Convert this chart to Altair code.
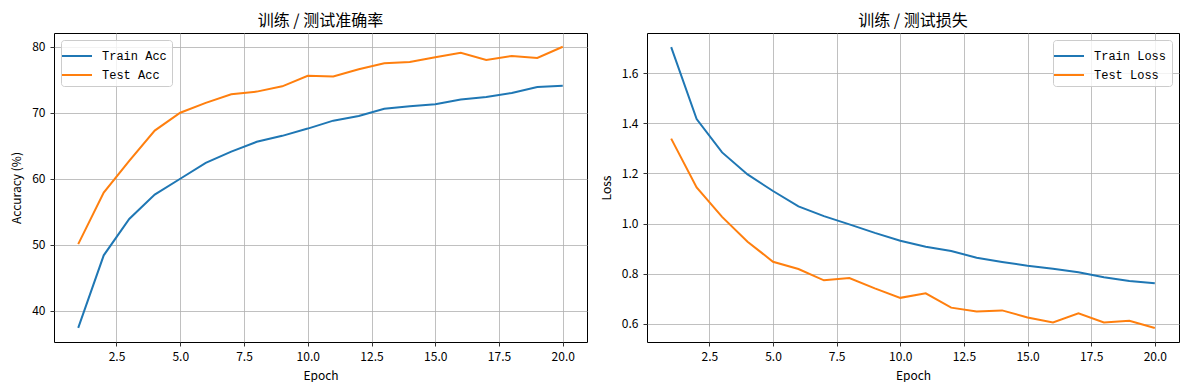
import altair as alt
import pandas as pd

epochs = list(range(1, 21))
train_acc = [37.4, 48.4, 53.9, 57.6, 60.0, 62.4, 64.1, 65.6, 66.5, 67.6,
             68.8, 69.5, 70.6, 71.0, 71.3, 72.0, 72.4, 73.0, 73.9, 74.1]
test_acc = [50.1, 57.9, 62.7, 67.3, 70.0, 71.5, 72.8, 73.2, 74.0, 75.6,
            75.5, 76.6, 77.5, 77.7, 78.4, 79.1, 78.0, 78.6, 78.3, 80.0]
train_loss = [1.704, 1.417, 1.284, 1.196, 1.130, 1.069, 1.030, 0.997, 0.963, 0.932,
              0.908, 0.891, 0.864, 0.847, 0.832, 0.820, 0.806, 0.786, 0.771, 0.762]
test_loss = [1.339, 1.144, 1.027, 0.928, 0.848, 0.819, 0.774, 0.783, 0.742, 0.704,
             0.722, 0.665, 0.650, 0.654, 0.626, 0.606, 0.642, 0.606, 0.613, 0.584]

x_ticks = [2.5, 5.0, 7.5, 10.0, 12.5, 15.0, 17.5, 20.0]
acc_ticks = [40, 50, 60, 70, 80]
loss_ticks = [0.6, 0.8, 1.0, 1.2, 1.4, 1.6]

acc_names = ["Train Acc", "Test Acc"]
loss_names = ["Train Loss", "Test Loss"]
colors = ["#1f77b4", "#ff7f0e"]

acc_df = pd.DataFrame({
    "epoch": epochs * 2,
    "value": train_acc + test_acc,
    "series": [acc_names[0]] * 20 + [acc_names[1]] * 20,
})
loss_df = pd.DataFrame({
    "epoch": epochs * 2,
    "value": train_loss + test_loss,
    "series": [loss_names[0]] * 20 + [loss_names[1]] * 20,
})

CJK = "Noto Sans CJK SC"
MONO = "Liberation Mono"


def make_legend(orient):
    return alt.Legend(
        title=None, orient=orient, offset=7,
        fillColor="rgba(255,255,255,0.8)", strokeColor="#cccccc",
        cornerRadius=3, padding=5, symbolType="M-1.5,0H1.5", symbolSize=400,
        symbolStrokeWidth=2, labelFont=MONO, labelFontSize=12,
        labelColor="#000000", rowPadding=2, labelOffset=14,
    )


def x_enc():
    return alt.X(
        "epoch:Q",
        scale=alt.Scale(domain=[0.05, 20.95], nice=False, zero=False),
        axis=alt.Axis(values=x_ticks, format=".1f", title="Epoch"),
    )


acc_chart = alt.Chart(acc_df).mark_line(strokeWidth=2).encode(
    x=x_enc(),
    y=alt.Y("value:Q",
            scale=alt.Scale(domain=[35.27, 82.08], nice=False, zero=False),
            axis=alt.Axis(values=acc_ticks, format="d", title="Accuracy (%)")),
    color=alt.Color("series:N",
                    scale=alt.Scale(domain=acc_names, range=colors),
                    legend=make_legend("top-left")),
).properties(
    width=533, height=309,
    title=alt.TitleParams("训练 / 测试准确率", font=CJK, fontSize=16,
                          fontWeight="normal", color="#000000", offset=4),
)

loss_chart = alt.Chart(loss_df).mark_line(strokeWidth=2).encode(
    x=x_enc(),
    y=alt.Y("value:Q",
            scale=alt.Scale(domain=[0.528, 1.760], nice=False, zero=False),
            axis=alt.Axis(values=loss_ticks, format=".1f", title="Loss")),
    color=alt.Color("series:N",
                    scale=alt.Scale(domain=loss_names, range=colors),
                    legend=make_legend("top-right")),
).properties(
    width=532, height=309,
    title=alt.TitleParams("训练 / 测试损失", font=CJK, fontSize=16,
                          fontWeight="normal", color="#000000", offset=4),
)

chart = alt.hconcat(acc_chart, loss_chart, spacing=11).resolve_scale(
    color="independent"
).properties(
    padding={"left": 2, "top": 4, "right": 0, "bottom": 0}
).configure_view(
    stroke="#000000", strokeWidth=1
).configure_axis(
    grid=True, gridColor="#b0b0b0", gridWidth=0.8,
    domain=False, tickColor="#000000", tickSize=4, tickWidth=0.8,
    labelFont=CJK, labelFontSize=12, labelColor="#000000", labelPadding=5,
    titleFont=CJK, titleFontSize=12, titleFontWeight="normal", titleColor="#000000",
    titlePadding=8,
).configure_legend(
    labelLimit=200
)

chart.save("out.html", embed_options={"renderer": "svg", "actions": False})
